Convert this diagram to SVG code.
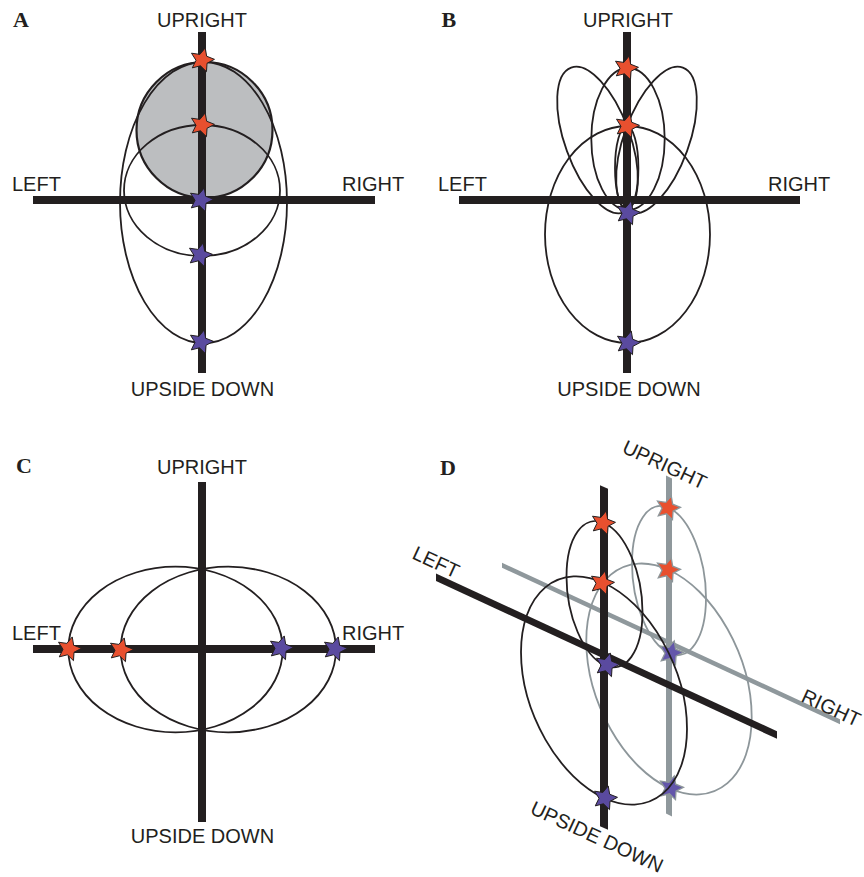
<svg xmlns="http://www.w3.org/2000/svg" width="864" height="877" viewBox="0 0 864 877">
<style>
.ax{stroke:#231f20;stroke-width:8;fill:none}
.axf{fill:#231f20}
.gaxf{fill:#8f989c}
.el{fill:none;stroke:#231f20;stroke-width:1.8}
.gel{fill:none;stroke:#8d969a;stroke-width:1.8}
.sk{vector-effect:non-scaling-stroke}
.lbl{font-family:"Liberation Sans",Arial,sans-serif;font-size:20px;fill:#231f20}
.pl{font-family:"Liberation Serif","Times New Roman",serif;font-weight:bold;font-size:22px;fill:#231f20}
.r{fill:#e8502f;stroke:#231f20;stroke-width:1}
.b{fill:#5a4a9f;stroke:#231f20;stroke-width:1}
.gr{fill:#e8502f;stroke:#8d969a;stroke-width:1.3}
.gb{fill:#6356aa;stroke:#8d969a;stroke-width:1.3}
</style>
<defs>
<path id="star" d="M3.24,-12.07 L4.66,-3.78 L12.48,-0.65 L5.03,3.27 L4.48,11.67 L-1.55,5.8 L-9.71,7.87 L-5.99,0.31 L-10.48,-6.81 L-2.15,-5.6 Z"/>
</defs>
<rect width="864" height="877" fill="#ffffff"/>

<!-- Panel A -->
<g id="panelA">
  <text class="pl" x="13" y="27">A</text>
  <circle id="A-shaded" cx="204.5" cy="130" r="68" fill="#bcbec0" stroke="#231f20" stroke-width="2.2"/>
  <ellipse id="A-big" class="el" cx="203.5" cy="202.5" rx="83.5" ry="140.5"/>
  <ellipse id="A-mid" class="el" cx="202" cy="190.5" rx="78" ry="65.5"/>
  <g id="A-axes">
    <line class="ax" x1="202" y1="32" x2="202" y2="373"/>
    <line class="ax" x1="33" y1="200" x2="375" y2="200"/>
  </g>
  <g id="A-stars">
    <use href="#star" class="r" x="202" y="60"/>
    <use href="#star" class="r" x="202" y="125"/>
    <use href="#star" class="b" x="201" y="200"/>
    <use href="#star" class="b" x="200" y="255"/>
    <use href="#star" class="b" x="201" y="342"/>
  </g>
  <text class="lbl" x="202" y="27" text-anchor="middle">UPRIGHT</text>
  <text class="lbl" x="12" y="191">LEFT</text>
  <text class="lbl" x="342" y="191">RIGHT</text>
  <text class="lbl" x="202.5" y="396" text-anchor="middle">UPSIDE DOWN</text>
</g>

<!-- Panel B -->
<g id="panelB">
  <text class="pl" x="441.5" y="27">B</text>
  <ellipse id="B-big" class="el" cx="627.5" cy="234.5" rx="82.5" ry="108.5"/>
  <ellipse id="B-tall" class="el" cx="628" cy="139" rx="36.7" ry="71"/>
  <ellipse id="B-narrow" class="el" cx="626.7" cy="168" rx="11.7" ry="42"/>
  <ellipse id="B-lobeL" class="el" cx="597.5" cy="140" rx="32.5" ry="77" transform="rotate(-20 597.5 140)"/>
  <ellipse id="B-lobeR" class="el" cx="656.5" cy="140" rx="32.5" ry="77" transform="rotate(20 656.5 140)"/>
  <g id="B-axes">
    <line class="ax" x1="627" y1="32" x2="627" y2="373"/>
    <line class="ax" x1="459" y1="200" x2="800" y2="200"/>
  </g>
  <g id="B-stars">
    <use href="#star" class="r" x="626" y="68"/>
    <use href="#star" class="r" x="627" y="126"/>
    <use href="#star" class="b" x="628" y="213"/>
    <use href="#star" class="b" x="628" y="343"/>
  </g>
  <text class="lbl" x="628" y="27" text-anchor="middle">UPRIGHT</text>
  <text class="lbl" x="438" y="191">LEFT</text>
  <text class="lbl" x="768" y="191">RIGHT</text>
  <text class="lbl" x="629" y="396" text-anchor="middle">UPSIDE DOWN</text>
</g>

<!-- Panel C -->
<g id="panelC">
  <text class="pl" x="16" y="473">C</text>
  <ellipse id="C-left" class="el" cx="175.5" cy="649.5" rx="107.2" ry="82.8"/>
  <ellipse id="C-right" class="el" cx="228.3" cy="649.5" rx="107.7" ry="82.8"/>
  <g id="C-axes">
    <line class="ax" x1="202" y1="482" x2="202" y2="822"/>
    <line class="ax" x1="33" y1="649" x2="375" y2="649"/>
  </g>
  <g id="C-stars">
    <use href="#star" class="r" x="69" y="649"/>
    <use href="#star" class="r" x="121" y="650"/>
    <use href="#star" class="b" x="281" y="648"/>
    <use href="#star" class="b" x="335" y="649"/>
  </g>
  <text class="lbl" x="202" y="474" text-anchor="middle">UPRIGHT</text>
  <text class="lbl" x="12" y="640">LEFT</text>
  <text class="lbl" x="342" y="640">RIGHT</text>
  <text class="lbl" x="202.5" y="843" text-anchor="middle">UPSIDE DOWN</text>
</g>

<!-- Panel D -->
<g id="panelD">
  <text class="pl" x="440" y="475">D</text>
  <g id="D-grayPlane">
    <g transform="matrix(1,0.4628,0,1,0,-309.61)">
      <rect class="gaxf" x="666" y="477" width="6" height="338"/>
      <rect class="gaxf" x="502" y="640" width="338" height="5"/>
      <ellipse class="gel sk" cx="669" cy="580.5" rx="37" ry="72.5"/>
      <ellipse class="gel sk" cx="669" cy="679" rx="82.7" ry="109"/>
    </g>
    <use href="#star" class="gr" x="668" y="508"/>
    <use href="#star" class="gr" x="668" y="570"/>
    <use href="#star" class="gb" x="671" y="653"/>
    <use href="#star" class="gb" x="671" y="788"/>
  </g>
  <g id="D-blackPlane">
    <g transform="matrix(1,0.4628,0,1,0,-279.53)">
      <rect class="axf" x="600" y="487" width="8" height="341"/>
      <rect class="axf" x="436" y="651.2" width="341" height="7.6"/>
      <ellipse class="el sk" cx="604.5" cy="594" rx="38" ry="71"/>
      <ellipse class="el sk" cx="604" cy="690.5" rx="83" ry="107.5"/>
    </g>
    <use href="#star" class="r" x="603" y="523"/>
    <use href="#star" class="r" x="602" y="583"/>
    <use href="#star" class="b" x="607" y="665"/>
    <use href="#star" class="b" x="605" y="798"/>
  </g>
  <text class="lbl" transform="translate(621,452) rotate(24.8)">UPRIGHT</text>
  <text class="lbl" transform="translate(411,558) rotate(24.8)">LEFT</text>
  <text class="lbl" transform="translate(800,701) rotate(24.8)">RIGHT</text>
  <text class="lbl" transform="translate(529,813) rotate(24.8)">UPSIDE DOWN</text>
</g>
</svg>
